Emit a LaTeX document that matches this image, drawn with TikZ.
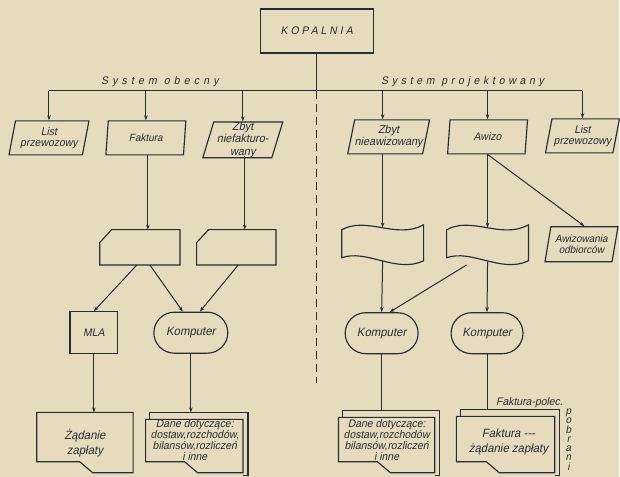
\documentclass[tikz,border=0pt]{standalone}
\usepackage{fontspec}
\newfontfamily\hand{Liberation Sans}[FakeStretch=0.95,FakeSlant=0.2]
\usetikzlibrary{shapes.geometric,shapes.misc,calc,arrows.meta}
\definecolor{paper}{RGB}{230,219,188}
\definecolor{ink}{RGB}{40,43,56}

\newcommand\docoutline[2]{%
  \draw[box] (#1.north west) -- (#1.north east) -- (#1.south east)
    -- ($(#1.south west)+(#2+13,0)$) -- ($(#1.south west)+(#2,-11)$)
    -- ($(#1.south west)+(0,-11)$) -- cycle;}
\newcommand\docback[1]{%
  \draw[box] ($(#1.north west)+(4,0)$) -- ++(0,-7) -| ($(#1.south east)+(5,3)$)
    -- ($(#1.south east)+(0,3)$);}
\newcommand\cardoutline[1]{%
  \draw[box] ($(#1.north west)+(0,13)$) -- ($(#1.north west)+(12,0)$)
    -- (#1.north east) -- (#1.south east) -- (#1.south west) -- cycle;}
\newcommand\tapeoutline[1]{%
  \draw[box] ($(#1)+(-41,-13)$) .. controls ($(#1)+(-16,-27)$) and ($(#1)+(14,-3)$) .. ($(#1)+(41,-18)$)
    -- ($(#1)+(41,18)$) .. controls ($(#1)+(14,31)$) and ($(#1)+(-16,6)$) .. ($(#1)+(-41,15)$) -- cycle;}

\begin{document}
\begin{tikzpicture}[x=1pt, y=-1pt,
        every node/.style={font=\hand\fontsize{11}{11}\selectfont, align=center, text=ink, inner sep=0pt},
        box/.style={draw=ink, line width=1.15pt},
        ln/.style={draw=ink, line width=1pt},
        arr/.style={ln, -{Stealth[length=5pt,width=3.5pt]}},
        para/.style={box, trapezium, trapezium left angle=73, trapezium right angle=107,
            trapezium stretches body, minimum width=80, minimum height=34},
        slot/.style={minimum width=80, minimum height=35},
        proc/.style={box, rounded rectangle, minimum width=74, minimum height=41,
            font=\hand\fontsize{12}{12}\selectfont},
        doc/.style={minimum width=96, minimum height=55},
        lbl/.style={font=\hand\fontsize{11}{11}\selectfont\addfontfeature{LetterSpace=36}}
    ]
    \fill[paper] (0,0) rectangle (620,477);

    \node[box, minimum width=113, minimum height=44,
          font=\hand\fontsize{11}{11}\selectfont\addfontfeature{LetterSpace=27}] (kop) at (317,31) {KOPALNIA};
    \coordinate (bus) at (317,91);
    \coordinate (dend) at (317,383);
    \node[lbl, font=\hand\fontsize{11}{11}\selectfont\addfontfeature{LetterSpace=38}] (obe) at (160,82) {System obecny};
    \node[lbl, font=\hand\fontsize{11}{11}\selectfont\addfontfeature{LetterSpace=34}] (pro) at (463,82) {System projektowany};

    \node[para] (lp1) at (49,138) {List\\przewozowy};
    \node[para, font=\hand\fontsize{10.5}{11}\selectfont] (fak) at (146,138) {Faktura};
    \node[para, font=\hand\fontsize{11.5}{12.5}\selectfont] (znf) at (243,140) {Zbyt\\niefakturo-\\wany};
    \node[para, font=\hand\fontsize{11.5}{12}\selectfont] (zna) at (389,137) {Zbyt\\nieawizowany};
    \node[para] (awi) at (488,137) {Awizo};
    \node[para, minimum width=74] (lp2) at (583,136) {List\\przewozowy};

    \node[slot] (cd1) at (140,247.5) {};
    \node[slot, minimum width=79] (cd2) at (236.5,247.5) {};
    \cardoutline{cd1}
    \cardoutline{cd2}
    \node[slot, minimum width=82, minimum height=40] (tp1) at (383,243) {};
    \node[slot, minimum width=82, minimum height=40] (tp2) at (488,243) {};
    \tapeoutline{tp1}
    \tapeoutline{tp2}
    \node[para, minimum width=73, minimum height=35, font=\hand\fontsize{10.5}{11.5}\selectfont] (awo) at (582,244.5) {Awizowania\\odbiorców};

    \node[box, minimum width=48, minimum height=42] (mla) at (94,333) {MLA};
    \node[proc] (kp1) at (191,333) {Komputer};
    \node[proc, minimum width=73] (kp2) at (382,333.5) {Komputer};
    \node[proc, minimum width=72] (kp3) at (487.5,333.5) {Komputer};

    \node[doc, minimum height=60, font=\hand\fontsize{12}{15}\selectfont] (zad) at (85,443) {Żądanie\\zapłaty};
    \node[doc, minimum width=97, minimum height=53] (dd1) at (194.5,446.5) {};
    \node[doc] (dd2) at (387,445.5) {};
    \node[doc, minimum width=98, minimum height=56] (fz) at (506,445) {};
    \docoutline{zad}{43}
    \docback{dd1}\docoutline{dd1}{39}
    \docback{dd2}\docoutline{dd2}{39}
    \docback{fz}\docoutline{fz}{30}
    \node (dt1) at (195,440) {Dane dotyczące:\\dostaw,rozchodów,\\bilansów,rozliczeń\\i inne};
    \node (dt2) at (387,440) {Dane dotyczące:\\dostaw,rozchodów\\bilansów,rozliczeń\\i inne};
    \node[font=\hand\fontsize{12}{15}\selectfont] (fzt) at (509,442) {Faktura ---\\żądanie zapłaty};
    \node[font=\hand\fontsize{11}{11}\selectfont] (fpol) at (530,403) {Faktura-polec.};
    \node[font=\hand\fontsize{10.5}{9.3}\selectfont, anchor=north] (pobr) at (569,409) {p\\o\\b\\r\\a\\n\\i};
    \path ($(dd1.north)+(0,-7)$) coordinate (dd1t)
          ($(dd2.north)+(0,-7)$) coordinate (dd2t)
          ($(fz.north)+(0,-7)$) coordinate (fzt2)
          ($(fak.south)+(2,0)$) coordinate (fakb)
          ($(znf.south)+(2,-2)$) coordinate (znfb);

    \draw[ln] (kop) -- (bus);
    \draw[ln] (lp1.north |- bus) -- (lp2.north |- bus);
    \draw[ln, dash pattern=on 8pt off 5pt, line width=1.2pt] (bus) -- (dend);
    \draw[arr] (lp1.north |- bus) -- (lp1.north);
    \draw[arr] (fak.north |- bus) -- (fak.north);
    \draw[arr] (znf.north |- bus) -- (znf.north);
    \draw[arr] (tp1 |- bus) -- (tp1 |- zna.north);
    \draw[arr] (awi.north |- bus) -- (awi.north);
    \draw[arr] (lp2.north |- bus) -- (lp2.north);

    \draw[arr] (fakb) -- (fakb |- cd1.north);
    \draw[arr] (znfb) -- (znfb |- cd2.north);
    \draw[arr] (tp1 |- zna.south) -- ($(tp1.north)+(0,5)$);
    \draw[arr] (awi.south -| tp2) -- ($(tp2.north)+(0,5)$);
    \draw[arr] (awi.south) -- ($(awo.north)+(3,0)$);

    \draw[arr] ($(cd1.south)+(-3,0)$) -- (mla.north);
    \draw[arr] ($(cd1.south)+(10,0)$) -- ($(kp1.north)+(-8,0)$);
    \draw[arr] ($(cd2.south)+(2,0)$) -- ($(kp1.north)+(9,0)$);
    \draw[arr] ($(tp1.south)+(0,-2)$) -- (kp2.north);
    \draw[arr] ($(tp2.south)+(-21,2)$) -- ($(kp2.north)+(8,0)$);
    \draw[arr] ($(tp2.south)+(0,-1)$) -- (kp3.north);

    \draw[arr] (mla.south) -- (mla.south |- zad.north);
    \draw[arr] (kp1.south) -- (kp1.south |- dd1t);
    \draw[ln] (kp2.south) -- (kp2.south |- dd2t);
    \draw[ln] (kp3.south) -- (kp3.south |- fzt2);
\end{tikzpicture}
\end{document}
